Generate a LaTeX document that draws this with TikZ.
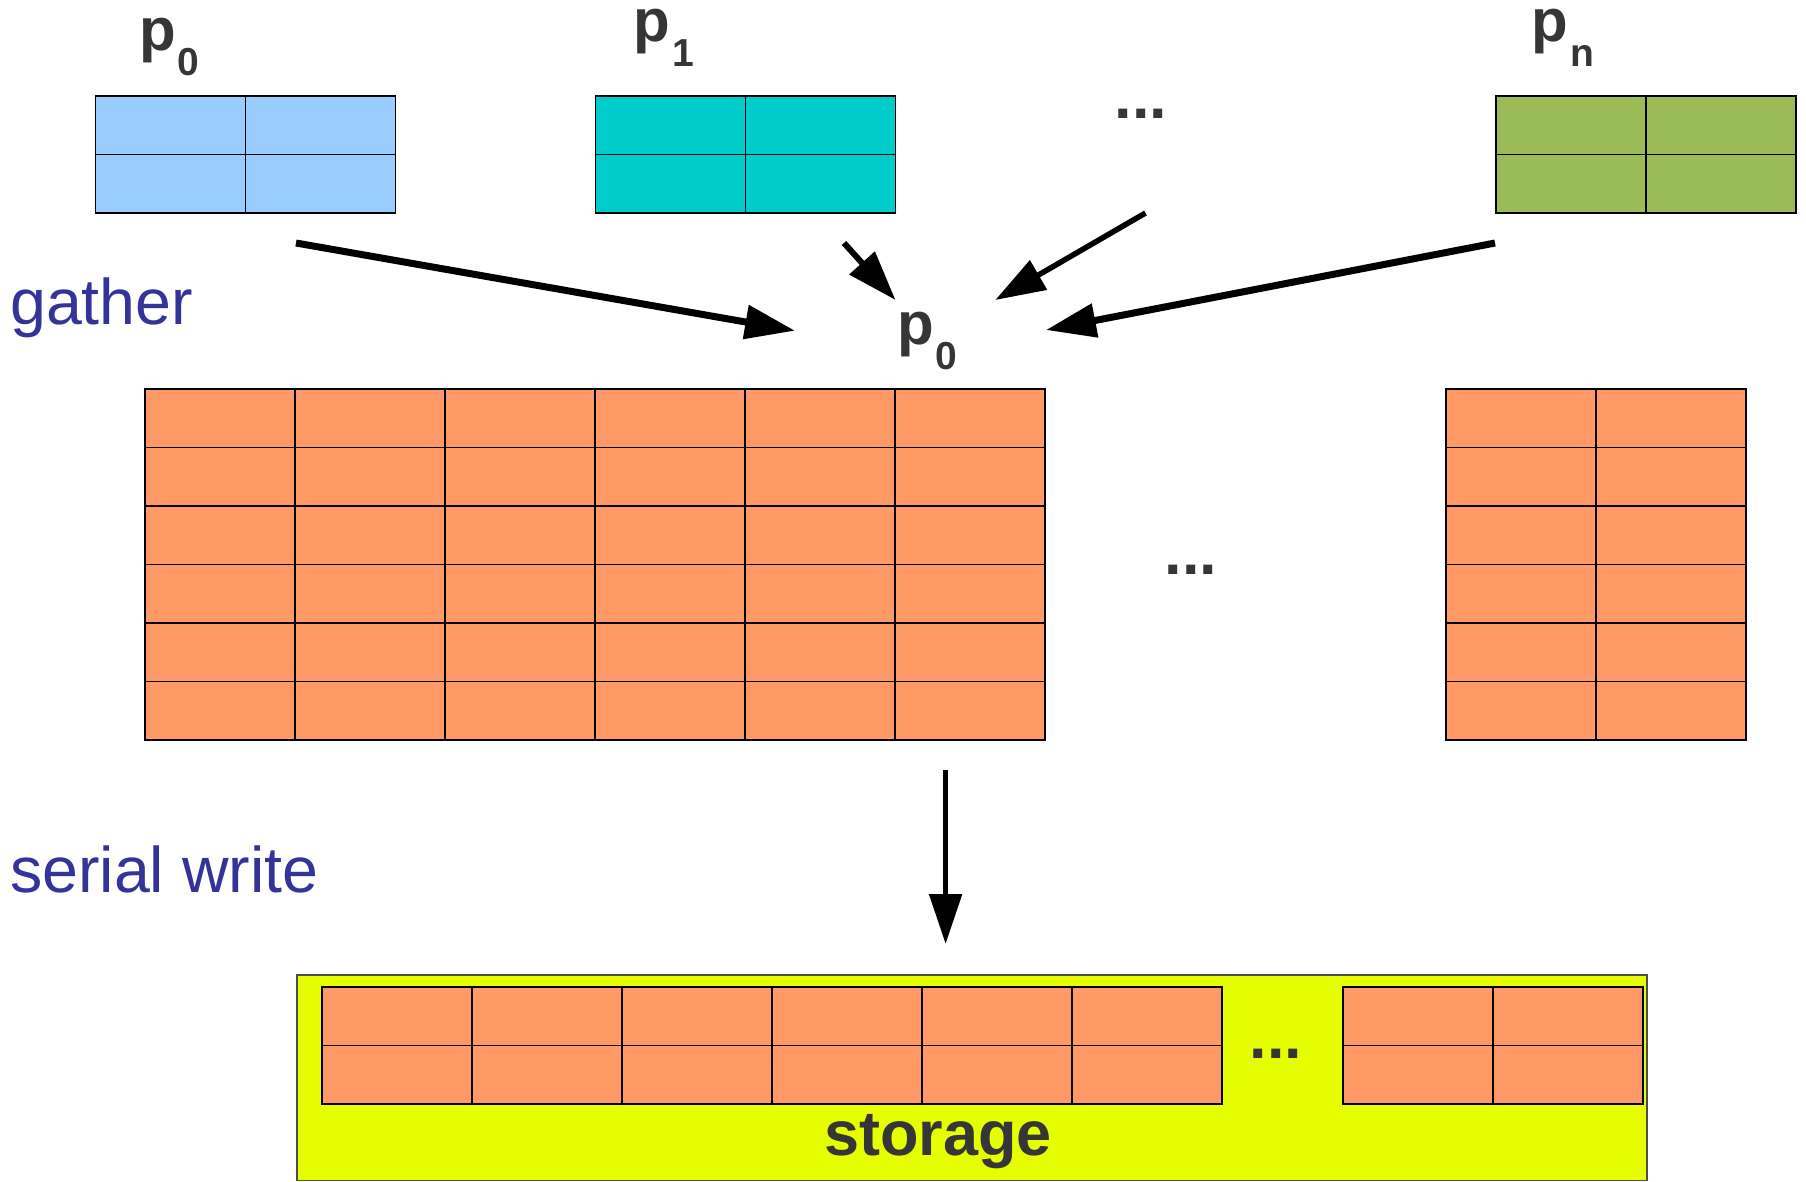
\documentclass[tikz,border=0pt]{standalone}
\usepackage{fontspec}
\setmainfont{Liberation Sans}
\usetikzlibrary{arrows.meta,calc}
\definecolor{cblue}{HTML}{99CCFF}
\definecolor{cteal}{HTML}{00CCCC}
\definecolor{cgreen}{HTML}{9BBB59}
\definecolor{corange}{HTML}{FF9966}
\definecolor{cyellow}{HTML}{E6FF00}
\definecolor{tblue}{HTML}{333399}
\definecolor{tgray}{HTML}{363636}
\tikzset{
  gridbox/.style={draw=black, line width=1.3pt, inner sep=0pt, outer sep=0pt},
  gridline/.style={draw=black, line width=1.3pt},
  plabel/.style={inner sep=0pt, anchor=base west, text=tgray, font=\fontsize{60}{60}\selectfont\bfseries},
  dots/.style={inner sep=0pt, anchor=base west, text=tgray, font=\fontsize{63}{63}\selectfont\bfseries},
  steplabel/.style={inner sep=0pt, anchor=base west, text=tblue, font=\fontsize{64.5}{64.5}\selectfont},
  bigarrow/.style={draw=black, line width=7pt, -{Triangle[length=50pt,width=33pt]}},
}
\newcommand\mkgrid[6]{%
  \node[gridbox, fill=#6, anchor=north west, minimum width={#4*150pt}, minimum height={#5*58.5pt}] (#1) at (#2,#3) {};
  \pgfmathtruncatemacro\lastc{#4-1}\pgfmathtruncatemacro\lastr{#5-1}%
  \foreach \c in {1,...,\lastc} \draw[gridline] ($(#1.north west)+(\c*150,0)$) -- ($(#1.south west)+(\c*150,0)$);
  \foreach \r in {1,...,\lastr} \draw[gridline] ($(#1.north west)+(0,\r*58.5)$) -- ($(#1.north east)+(0,\r*58.5)$);
}
\newcommand\psub[1]{\kern2pt\raisebox{-25pt}{\fontsize{39}{39}\selectfont\bfseries #1}}
\begin{document}
\begin{tikzpicture}[x=1pt,y=-1pt]
\useasboundingbox (0,0) rectangle (1806,1182);
% top blocks
\mkgrid{b0}{95.5}{96}{2}{2}{cblue}
\mkgrid{b1}{595.5}{96}{2}{2}{cteal}
\mkgrid{bn}{1496}{96}{2}{2}{cgreen}
\node[plabel] (lp0) at (139,51) {p\psub{0}};
\node[plabel] (lp1) at (633.5,42) {p\psub{1}};
\node[plabel] (lpn) at (1531.7,42) {p\psub{n}};
\node[dots] (dtop) at (1114.6,119) {...};
% gathered grid
\mkgrid{g0}{145}{389}{6}{6}{corange}
\mkgrid{g1}{1446}{389}{2}{6}{corange}
\node[dots] (dmid) at (1164.6,574) {...};
\node[plabel] (lmid) at (897,344) {p\psub{0}};
% labels
\node[steplabel] (lgather) at (10,324) {gather};
\node[steplabel] (lserial) at (10,892) {serial write};
% arrows
\coordinate (a1s) at (296,243); \coordinate (a1e) at (795,330.7);
\coordinate (a2s) at (844,243); \coordinate (a2e) at (895.5,300);
\coordinate (a3s) at (1145.5,213); \coordinate (a3e) at (995.3,300);
\coordinate (a4s) at (1495,243); \coordinate (a4e) at (1046,330);
\coordinate (a5s) at (945.6,770); \coordinate (a5e) at (945.6,944);
\draw[bigarrow] (a1s) -- (a1e);
\draw[bigarrow, line width=6pt] (a2s) -- (a2e);
\draw[bigarrow, line width=5.5pt] (a3s) -- (a3e);
\draw[bigarrow] (a4s) -- (a4e);
\draw[bigarrow, line width=5.5pt, -{Triangle[length=50pt,width=32pt]}] (a5s) -- (a5e);
% storage
\node[draw=black!70, line width=1.5pt, fill=cyellow, anchor=north west, minimum width=1350pt, minimum height=205.5pt, inner sep=0pt] (stor) at (296,974) {};
\mkgrid{s0}{322}{987}{6}{2}{corange}
\mkgrid{s1}{1343}{987}{2}{2}{corange}
\node[dots] (dstor) at (1249.6,1058) {...};
\node[inner sep=0pt, anchor=base, text=tgray, font=\fontsize{63}{63}\selectfont\bfseries] (lstor) at (938,1155) {storage};
\end{tikzpicture}
\end{document}
